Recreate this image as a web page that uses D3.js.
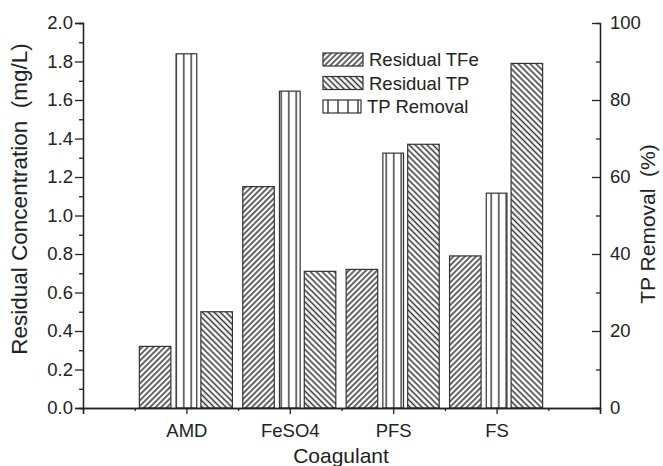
<!DOCTYPE html>
<html>
<head>
<meta charset="utf-8">
<script src="https://cdn.jsdelivr.net/npm/d3@7"></script>
<style>
  body { margin: 0; background: #fff; }
  text { font-family: "Liberation Sans", Arial, sans-serif; fill: #222; }
</style>
</head>
<body>
<svg id="chart" width="663" height="466"></svg>
<script>
// data
const categories = ["AMD", "FeSO4", "PFS", "FS"]
const residualTFe = [0.32, 1.15, 0.72, 0.79]     // mg/L, left axis
const residualTP = [0.50, 0.71, 1.37, 1.79]      // mg/L, left axis
const tpRemoval = [92.0, 82.3, 66.2, 55.8]       // %, right axis
const leftTicks = [0, 0.2, 0.4, 0.6, 0.8, 1.0, 1.2, 1.4, 1.6, 1.8, 2.0]
const rightTicks = [0, 20, 40, 60, 80, 100]

const svg = d3.select("#chart"),
  plotLeft = 83, plotRight = 600, plotTop = 23, plotBottom = 408

const x = d3.scaleLinear().domain([0, 5]).range([plotLeft, plotRight])
const y = d3.scaleLinear().domain([0, 2]).range([plotBottom, plotTop])
const y2 = d3.scaleLinear().domain([0, 100]).range([plotBottom, plotTop])

// hatch patterns
const defs = svg.append("defs")
function hatch(id, angle, size, sw) {
  const p = defs.append("pattern")
    .attr("id", id)
    .attr("patternUnits", "userSpaceOnUse")
    .attr("width", size).attr("height", size)
    .attr("patternTransform", "rotate(" + angle + ")")
  p.append("rect").attr("width", size).attr("height", size).attr("fill", "#fff")
  p.append("line")
    .attr("x1", size / 2).attr("y1", 0).attr("x2", size / 2).attr("y2", size)
    .attr("stroke", "#333").attr("stroke-width", sw)
}
hatch("tfe", 45, 4.0, 1.5)
hatch("tp", -45, 4.2, 1.5)
hatch("rem", 0, 7.5, 1.4)
hatch("remLeg", 0, 10, 1.4)

const fmt = d3.format(".1f")

// bars
const g = svg.append("g")
g.selectAll(".tfe").data(residualTFe).enter().append("rect")
  .attr("x", (d, i) => x(i + 1 - 0.455))
  .attr("width", x(0.305) - x(0))
  .attr("y", d => y(d))
  .attr("height", d => y(0) - y(d))
  .attr("fill", "url(#tfe)").attr("stroke", "#333").attr("stroke-width", 1.2)

g.selectAll(".rem").data(tpRemoval).enter().append("rect")
  .attr("x", (d, i) => x(i + 1 - 0.1))
  .attr("width", x(0.2) - x(0))
  .attr("y", d => y2(d))
  .attr("height", d => y2(0) - y2(d))
  .attr("fill", "url(#rem)").attr("stroke", "#333").attr("stroke-width", 1.2)

g.selectAll(".tp").data(residualTP).enter().append("rect")
  .attr("x", (d, i) => x(i + 1 + 0.14))
  .attr("width", x(0.305) - x(0))
  .attr("y", d => y(d))
  .attr("height", d => y(0) - y(d))
  .attr("fill", "url(#tp)").attr("stroke", "#333").attr("stroke-width", 1.2)

// axes
const axisColor = "#222"
function styleAxis(sel) {
  sel.select(".domain").attr("stroke", axisColor).attr("stroke-width", 1.3)
  sel.selectAll(".tick line").attr("stroke", axisColor).attr("stroke-width", 1.3)
  sel.selectAll(".tick text").attr("font-size", 18.5).attr("fill", "#222")
    .attr("font-family", "Liberation Sans, Arial, sans-serif")
}

// left
svg.append("g").attr("transform", "translate(" + plotLeft + ",0)")
  .call(d3.axisLeft(y).tickValues(d3.range(0.1, 2, 0.2)).tickSize(4).tickFormat(""))
  .call(styleAxis)
svg.append("g").attr("transform", "translate(" + plotLeft + ",0)")
  .call(d3.axisLeft(y).tickValues(leftTicks).tickSize(8).tickPadding(2).tickFormat(fmt))
  .call(styleAxis)

// right (ticks point inward)
svg.append("g").attr("transform", "translate(" + plotRight + ",0)")
  .call(d3.axisLeft(y2).tickValues(d3.range(10, 100, 20)).tickSize(4).tickFormat(""))
  .call(styleAxis)
const ra = svg.append("g").attr("transform", "translate(" + plotRight + ",0)")
  .call(d3.axisRight(y2).tickValues(rightTicks).tickSize(0).tickPadding(10))
  .call(styleAxis)
ra.selectAll(".tick").append("line")
  .attr("x1", 0).attr("x2", -8).attr("stroke", axisColor).attr("stroke-width", 1.3)

// bottom
svg.append("g").attr("transform", "translate(0," + plotBottom + ")")
  .call(d3.axisBottom(x).tickValues(d3.range(0.5, 5, 1)).tickSize(3).tickFormat(""))
  .call(styleAxis)
svg.append("g").attr("transform", "translate(0," + plotBottom + ")")
  .call(d3.axisBottom(x).tickValues([0, 1, 2, 3, 4, 5]).tickSize(6).tickPadding(10)
    .tickFormat(d => categories[d - 1] || ""))
  .call(styleAxis)

// axis titles
svg.append("text").attr("x", 341).attr("y", 463)
  .attr("text-anchor", "middle").attr("font-size", 21).text("Coagulant")
svg.append("text")
  .attr("transform", "translate(27,199) rotate(-90)")
  .attr("text-anchor", "middle").attr("font-size", 22.5)
  .text("Residual Concentration\u00a0\u00a0(mg/L)")
svg.append("text")
  .attr("transform", "translate(655,224) rotate(-90)")
  .attr("text-anchor", "middle").attr("font-size", 21)
  .text("TP Removal\u00a0\u00a0(%)")

// legend
const legendItems = [
  { name: "Residual TFe", fill: "url(#tfe)", w: 40 },
  { name: "Residual TP", fill: "url(#tp)", w: 40 },
  { name: "TP Removal", fill: "url(#remLeg)", w: 38 }
]
const lg = svg.append("g").attr("transform", "translate(323,53)")
lg.selectAll("rect").data(legendItems).enter().append("rect")
  .attr("x", 0).attr("y", (d, i) => i * 23.5)
  .attr("width", d => d.w).attr("height", 13)
  .attr("fill", d => d.fill).attr("stroke", "#333").attr("stroke-width", 1.2)
lg.selectAll("text").data(legendItems).enter().append("text")
  .attr("x", d => d.w + 6).attr("y", (d, i) => i * 23.5 + 13)
  .attr("font-size", 18.5).text(d => d.name)
</script>
</body>
</html>
